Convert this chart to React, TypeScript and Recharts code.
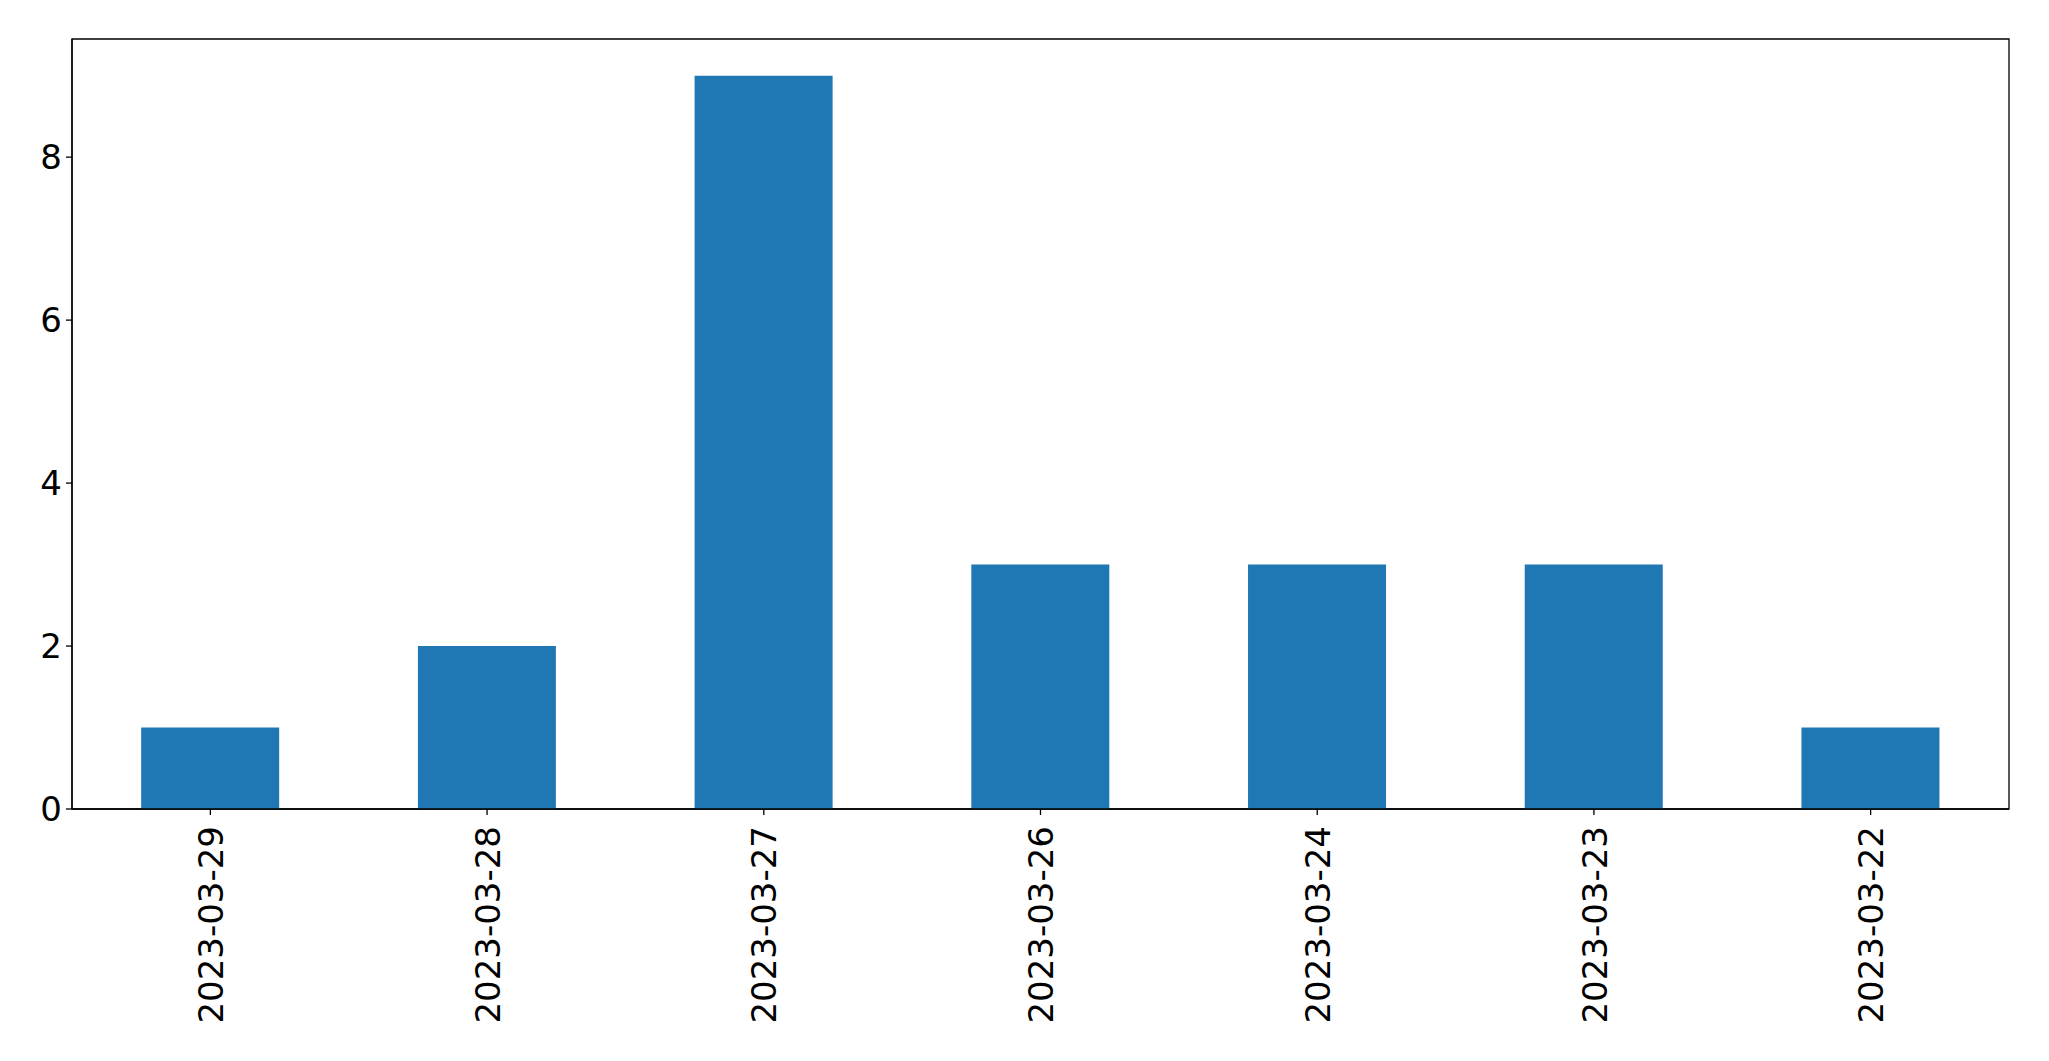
import { BarChart, Bar, XAxis, YAxis, ReferenceArea } from 'recharts';

const dates = [
  '2023-03-29',
  '2023-03-28',
  '2023-03-27',
  '2023-03-26',
  '2023-03-24',
  '2023-03-23',
  '2023-03-22',
];
const counts = [1, 2, 9, 3, 3, 3, 1];
const yTicks = [0, 2, 4, 6, 8];

const data = dates.map((d, i) => ({ date: d, count: counts[i] }));

const FONT = '"DejaVu Sans", sans-serif';

function DateTick(props: any) {
  const { x, y, payload } = props;
  return (
    <g transform={`translate(${x},${y})`}>
      <text
        transform="rotate(-90)"
        x={0}
        y={0}
        dy="0.37em"
        textAnchor="end"
        fill="#000"
        fontSize={34}
        fontFamily={FONT}
      >
        {payload.value}
      </text>
    </g>
  );
}

function CountTick(props: any) {
  const { x, y, payload } = props;
  return (
    <text
      x={x}
      y={y}
      dy="0.36em"
      textAnchor="end"
      fill="#000"
      fontSize={34}
      fontFamily={FONT}
    >
      {payload.value}
    </text>
  );
}

export default function App() {
  return (
    <div style={{ position: 'absolute', left: 0, top: 0, background: '#fff' }}>
      <BarChart
        width={2049}
        height={1061}
        data={data}
        margin={{ top: 39, right: 40, bottom: 0, left: 0 }}
        barCategoryGap="25%"
      >
        <XAxis
          dataKey="date"
          height={252}
          tick={<DateTick />}
          tickSize={6}
          tickMargin={11}
          interval={0}
          axisLine={{ stroke: '#000', strokeWidth: 1.3 }}
          tickLine={{ stroke: '#000', strokeWidth: 1.3 }}
        />
        <YAxis
          width={72}
          domain={[0, 9.45]}
          ticks={yTicks}
          tickSize={6}
          tickMargin={4}
          tick={<CountTick />}
          axisLine={{ stroke: '#000', strokeWidth: 1.3 }}
          tickLine={{ stroke: '#000', strokeWidth: 1.3 }}
        />
        <ReferenceArea y1={0} y2={9.45} fill="none" stroke="#000" strokeWidth={1.3} />
        <Bar dataKey="count" fill="#1f77b4" isAnimationActive={false} />
      </BarChart>
    </div>
  );
}
